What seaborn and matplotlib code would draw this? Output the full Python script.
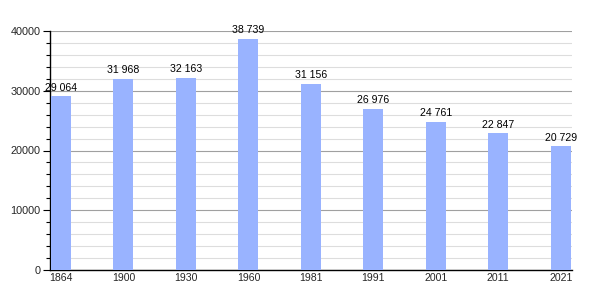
import matplotlib
matplotlib.use("Agg")
import matplotlib.pyplot as plt
import seaborn as sns
import pandas as pd
from matplotlib.ticker import MultipleLocator

years = ["1864", "1900", "1930", "1960", "1981", "1991", "2001", "2011", "2021"]
population = [29064, 31968, 32163, 38739, 31156, 26976, 24761, 22847, 20729]

sns.set_theme(style="white")
plt.rcParams['font.family'] = ['Liberation Sans', 'DejaVu Sans']

df = pd.DataFrame({"year": years, "pop": population})

fig = plt.figure(figsize=(6, 3), dpi=100)
ax = fig.add_axes([50/600, 0.1, 522/600, 239/300])

sns.barplot(data=df, x="year", y="pop", color="#99b3ff", saturation=1, width=0.32,
            linewidth=0, edgecolor="none", ax=ax, zorder=3)

ax.set_ylim(0, 40000)
ax.set_xlim(-0.176, 8.18)
ax.yaxis.set_major_locator(MultipleLocator(10000))
ax.yaxis.set_minor_locator(MultipleLocator(2000))
ax.grid(which="major", axis="y", color="#a0a0a0", linewidth=0.8, zorder=0)
ax.grid(which="minor", axis="y", color="#dddddd", linewidth=0.8, zorder=0)
ax.set_axisbelow(True)

for s in ["top", "right"]:
    ax.spines[s].set_visible(False)
for s in ["left", "bottom"]:
    ax.spines[s].set_color("black")
    ax.spines[s].set_linewidth(1)

ax.tick_params(axis="y", which="major", left=True, length=5, width=0.8, color="black", labelsize=7.8, pad=2)
ax.tick_params(axis="y", which="minor", left=True, length=3, width=0.8, color="black")
ax.tick_params(axis="x", bottom=False, length=0, labelsize=7.6, pad=2)
ax.set_xlabel("")
ax.set_ylabel("")

for i, v in enumerate(population):
    ax.text(i, v + 600, f"{v:,}".replace(",", " "), ha="center", va="bottom", fontsize=7.6, color="black", zorder=4)

fig.savefig("out.png", dpi=100)
